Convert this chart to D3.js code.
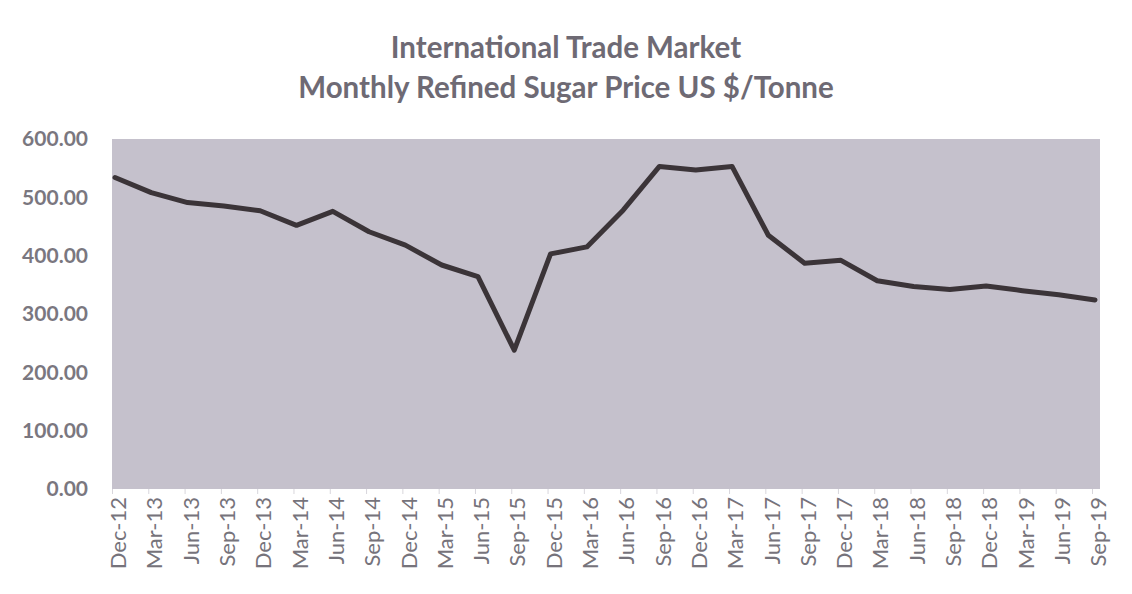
<!DOCTYPE html>
<html>
<head>
<meta charset="utf-8">
<script src="https://cdn.jsdelivr.net/npm/d3@7"></script>
<style>
  html, body { margin: 0; padding: 0; background: #ffffff; }
  svg { display: block; }
</style>
</head>
<body>
<svg id="chart" width="1132" height="594"></svg>
<script>
// Quarterly refined sugar price, US $/tonne
const quarters = ["Dec-12","Mar-13","Jun-13","Sep-13","Dec-13","Mar-14","Jun-14","Sep-14",
  "Dec-14","Mar-15","Jun-15","Sep-15","Dec-15","Mar-16","Jun-16","Sep-16","Dec-16","Mar-17",
  "Jun-17","Sep-17","Dec-17","Mar-18","Jun-18","Sep-18","Dec-18","Mar-19","Jun-19","Sep-19"];
const prices = [534, 508, 491, 485, 477, 452, 476, 441,
  418, 384, 364, 238, 403, 415, 478, 553, 547, 553,
  435, 387, 392, 357, 347, 342, 348, 340, 333, 324];
const yTicks = [0, 100, 200, 300, 400, 500, 600];
const titleLines = ["International Trade Market", "Monthly Refined Sugar Price US $/Tonne"];

const svg = d3.select("#chart");
const plot = { left: 112, right: 1100, top: 139, bottom: 489 };
const font = "Lato, 'Open Sans', sans-serif";

const x = d3.scalePoint().domain(quarters).range([115, 1095]);
const y = d3.scaleLinear().domain([0, 600]).range([plot.bottom, plot.top]);

// plot area background
svg.append("rect")
  .attr("x", plot.left).attr("y", plot.top)
  .attr("width", plot.right - plot.left).attr("height", plot.bottom - plot.top)
  .attr("fill", "#c5c1cc");

// title
svg.append("g").selectAll("text").data(titleLines).join("text")
  .attr("x", 566).attr("y", (d, i) => 58 + i * 40)
  .attr("text-anchor", "middle")
  .attr("font-family", font)
  .attr("font-size", 29.5)
  .attr("font-weight", 700)
  .attr("fill", "#6e6a74")
  .text(d => d);

// y axis labels
const yAxis = d3.axisLeft(y).tickValues(yTicks).tickFormat(d3.format(".2f")).tickSize(0).tickPadding(0);
const gy = svg.append("g").attr("transform", "translate(88,0)").call(yAxis);
gy.select(".domain").remove();
gy.selectAll("text")
  .attr("font-family", font)
  .attr("font-size", 21)
  .attr("font-weight", 700)
  .attr("fill", "#7a777f");

// x axis
const xAxis = d3.axisBottom(x).tickSize(5).tickPadding(6);
const gx = svg.append("g").attr("transform", `translate(0,${plot.bottom})`).call(xAxis);
gx.select(".domain").remove();
gx.selectAll(".tick line").attr("stroke", "#d8d6dc").attr("transform", "translate(-3,0)");
gx.selectAll("text")
  .attr("font-family", font)
  .attr("font-size", 22)
  .attr("fill", "#76737b")
  .attr("text-anchor", "end")
  .attr("dy", "0.35em")
  .attr("transform", "translate(3,0) rotate(-90)")
  .attr("x", -8).attr("y", 0);

// price line
const line = d3.line().x((d, i) => x(quarters[i])).y(d => y(d));
svg.append("path")
  .datum(prices)
  .attr("d", line)
  .attr("fill", "none")
  .attr("stroke", "#3b3438")
  .attr("stroke-width", 5)
  .attr("stroke-linejoin", "round")
  .attr("stroke-linecap", "round");
</script>
</body>
</html>
